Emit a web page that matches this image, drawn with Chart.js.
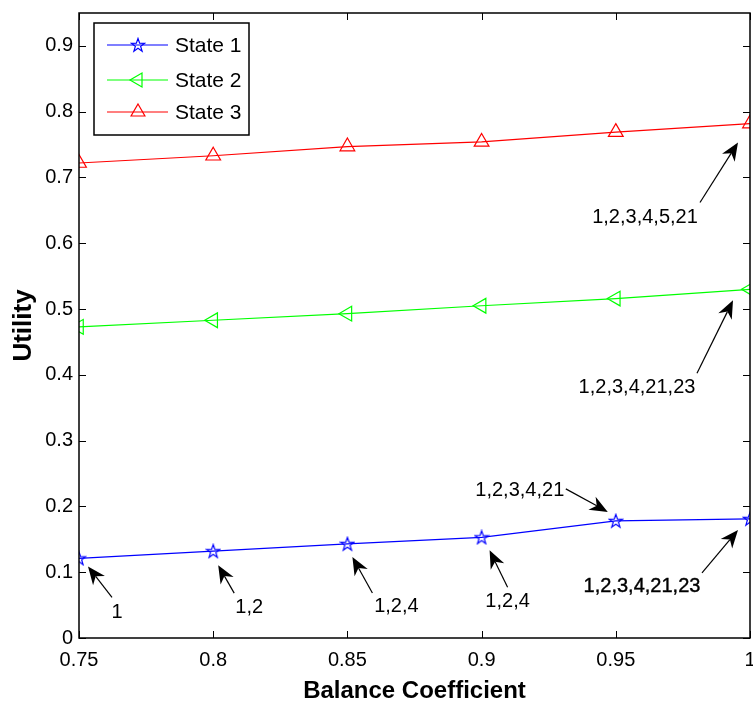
<!DOCTYPE html>
<html lang="en">
<head>
<meta charset="UTF-8">
<title>Utility vs Balance Coefficient</title>
<script src="https://cdn.jsdelivr.net/npm/chart.js"></script>
<style>
    body {
        margin: 0;
        background: #fff;
    }
    #chartBox {
        width: 753px;
        height: 703px;
    }
</style>
</head>
<body>
<div id="chartBox"><canvas id="utilityChart" width="753" height="703"></canvas></div>
<script>
// ---- data ----
const balanceCoefficients = [0.75, 0.8, 0.85, 0.9, 0.95, 1];
const state1 = [0.121, 0.132, 0.143, 0.153, 0.178, 0.181];
const state2 = [0.473, 0.483, 0.493, 0.505, 0.516, 0.530];
const state3 = [0.722, 0.733, 0.747, 0.754, 0.769, 0.782];
const seriesNames = ['State 1', 'State 2', 'State 3'];

const xTickValues = [0.75, 0.8, 0.85, 0.9, 0.95, 1];
const xTickLabels = ['0.75', '0.8', '0.85', '0.9', '0.95', '1'];
const yTickValues = [0, 0.1, 0.2, 0.3, 0.4, 0.5, 0.6, 0.7, 0.8, 0.9];
const yTickLabels = ['0', '0.1', '0.2', '0.3', '0.4', '0.5', '0.6', '0.7', '0.8', '0.9'];

// which point each callout points at, and its text
const noteSeries = [0, 0, 0, 0, 0, 0, 1, 2];
const notePoints = [0, 1, 2, 3, 4, 5, 5, 5];
const noteTexts = ['1', '1,2', '1,2,4', '1,2,4', '1,2,3,4,21', '1,2,3,4,21,23', '1,2,3,4,21,23', '1,2,3,4,5,21'];

// callout placement relative to the point (pixels): arrow tip, arrow tail, text centre
const noteLayout = [
    { tip: [9, 8],    tail: [33, 39],   text: [38, 54] },
    { tip: [5, 14],   tail: [21, 42],   text: [36, 56] },
    { tip: [5, 13],   tail: [25, 49],   text: [49, 63] },
    { tip: [8, 13],   tail: [26, 50],   text: [26, 64] },
    { tip: [-8, -9],  tail: [-50, -32], text: [-96, -30] },
    { tip: [-12, 11], tail: [-48, 54],  text: [-108, 68], heavy: true },
    { tip: [-17, 11], tail: [-53, 84],  text: [-113, 98] },
    { tip: [-12, 19], tail: [-50, 79],  text: [-105, 94] }
];

const FONT = "'Liberation Sans', Arial, Helvetica, sans-serif";
const colors = ['#0000ff', '#00ff00', '#ff0000'];

// MATLAB-like pentagram marker
function makePentagram(color) {
    const c = document.createElement('canvas');
    c.width = 16; c.height = 16;
    const g = c.getContext('2d');
    g.strokeStyle = color;
    g.lineWidth = 1.2;
    g.beginPath();
    for (let i = 0; i < 10; i++) {
        const r = i % 2 === 0 ? 7 : 2.8;
        const a = -Math.PI / 2 + i * Math.PI / 5;
        const px = 8 + r * Math.cos(a), py = 8.5 + r * Math.sin(a);
        if (i === 0) g.moveTo(px, py); else g.lineTo(px, py);
    }
    g.closePath();
    g.stroke();
    return c;
}
const starMarker = makePentagram(colors[0]);

const markerStyles = [
    { pointStyle: starMarker, rotation: 0, radius: 7 },
    { pointStyle: 'triangle', rotation: 270, radius: 8.5 },
    { pointStyle: 'triangle', rotation: 0, radius: 8.5 }
];

function toPoints(values) {
    return balanceCoefficients.map((x, i) => ({ x: x, y: values[i] }));
}

const seriesValues = [state1, state2, state3];

const datasets = seriesValues.map((vals, i) => ({
    label: seriesNames[i],
    data: toPoints(vals),
    borderColor: colors[i],
    backgroundColor: 'rgba(0,0,0,0)',
    borderWidth: 1.2,
    pointStyle: markerStyles[i].pointStyle,
    pointRotation: markerStyles[i].rotation,
    pointRadius: markerStyles[i].radius,
    pointBorderColor: colors[i],
    pointBackgroundColor: 'rgba(0,0,0,0)',
    pointBorderWidth: 1.2,
    tension: 0
}));

// box, inward ticks on all four sides
const frameTicks = {
    id: 'frameTicks',
    afterDatasetsDraw(chart) {
        const { ctx, chartArea: a, scales } = chart;
        const len = 7;
        ctx.save();
        ctx.strokeStyle = '#000';
        ctx.lineWidth = 1;
        ctx.beginPath();
        xTickValues.forEach(v => {
            const x = Math.round(scales.x.getPixelForValue(v)) + 0.5;
            ctx.moveTo(x, a.bottom); ctx.lineTo(x, a.bottom - len);
            ctx.moveTo(x, a.top); ctx.lineTo(x, a.top + len);
        });
        yTickValues.forEach(v => {
            const y = Math.round(scales.y.getPixelForValue(v)) + 0.5;
            ctx.moveTo(a.left, y); ctx.lineTo(a.left + len, y);
            ctx.moveTo(a.right, y); ctx.lineTo(a.right - len, y);
        });
        ctx.stroke();
        ctx.lineWidth = 1.5;
        ctx.strokeRect(a.left, a.top, a.right - a.left, a.bottom - a.top);
        ctx.restore();
    }
};

// legend box with line + marker samples
const matlabLegend = {
    id: 'matlabLegend',
    afterDraw(chart) {
        const { ctx } = chart;
        const box = { x: 94, y: 23, w: 155, h: 112 };
        const rows = [45, 80, 112];
        ctx.save();
        ctx.fillStyle = '#fff';
        ctx.fillRect(box.x, box.y, box.w, box.h);
        ctx.strokeStyle = '#000';
        ctx.lineWidth = 1.5;
        ctx.strokeRect(box.x, box.y, box.w, box.h);
        seriesNames.forEach((name, i) => {
            const y = rows[i];
            ctx.strokeStyle = colors[i];
            ctx.lineWidth = 1.2;
            ctx.beginPath();
            ctx.moveTo(107, y); ctx.lineTo(168, y);
            ctx.stroke();
            ctx.fillStyle = 'rgba(0,0,0,0)';
            Chart.helpers.drawPoint(ctx, {
                pointStyle: markerStyles[i].pointStyle,
                rotation: markerStyles[i].rotation,
                radius: i === 0 ? 6 : 8,
                borderWidth: 1.2
            }, 138, y);
            ctx.fillStyle = '#000';
            ctx.font = '21px ' + FONT;
            ctx.textAlign = 'left';
            ctx.textBaseline = 'middle';
            ctx.fillText(name, 175, y + 1);
        });
        ctx.restore();
    }
};

// arrow callouts
function drawArrow(ctx, x0, y0, x1, y1) {
    const ang = Math.atan2(y1 - y0, x1 - x0);
    const headLen = 18, headHalf = 7.5;
    const bx = x1 - headLen * Math.cos(ang), by = y1 - headLen * Math.sin(ang);
    const nx = x1 - headLen * 0.7 * Math.cos(ang), ny = y1 - headLen * 0.7 * Math.sin(ang);
    ctx.beginPath();
    ctx.moveTo(x0, y0); ctx.lineTo(nx, ny);
    ctx.stroke();
    ctx.beginPath();
    ctx.moveTo(x1, y1);
    ctx.lineTo(bx + headHalf * Math.sin(ang), by - headHalf * Math.cos(ang));
    ctx.lineTo(nx, ny);
    ctx.lineTo(bx - headHalf * Math.sin(ang), by + headHalf * Math.cos(ang));
    ctx.closePath();
    ctx.fill();
}

const callouts = {
    id: 'callouts',
    afterDraw(chart) {
        const { ctx, scales } = chart;
        ctx.save();
        ctx.strokeStyle = '#000';
        ctx.fillStyle = '#000';
        ctx.lineWidth = 1.2;
        ctx.font = '20px ' + FONT;
        ctx.textAlign = 'center';
        ctx.textBaseline = 'middle';
        noteTexts.forEach((txt, k) => {
            const s = noteSeries[k], p = notePoints[k];
            const px = scales.x.getPixelForValue(balanceCoefficients[p]);
            const py = scales.y.getPixelForValue(seriesValues[s][p]);
            const L = noteLayout[k];
            drawArrow(ctx, px + L.tail[0], py + L.tail[1], px + L.tip[0], py + L.tip[1]);
            ctx.fillText(txt, px + L.text[0], py + L.text[1]);
            if (L.heavy) {
                ctx.lineWidth = 0.4;
                ctx.strokeText(txt, px + L.text[0], py + L.text[1]);
                ctx.lineWidth = 1.2;
            }
        });
        ctx.restore();
    }
};

const ctx = document.getElementById('utilityChart').getContext('2d');

new Chart(ctx, {
    type: 'line',
    data: { datasets: datasets },
    options: {
        responsive: false,
        animation: false,
        devicePixelRatio: 1,
        layout: { autoPadding: false, padding: { top: 13, right: 3, left: 0, bottom: 0 } },
        plugins: {
            legend: { display: false },
            tooltip: { enabled: false }
        },
        scales: {
            x: {
                type: 'linear',
                min: 0.75,
                max: 1,
                grid: { display: false, drawTicks: false },
                border: { display: false },
                afterBuildTicks: scale => { scale.ticks = xTickValues.map(v => ({ value: v })); },
                afterFit: scale => { scale.height = 65; scale.paddingLeft = 0; scale.paddingRight = 0; },
                ticks: {
                    color: '#000',
                    padding: 10,
                    maxRotation: 0,
                    autoSkip: false,
                    font: { family: FONT, size: 20 },
                    callback: (v) => xTickLabels[xTickValues.indexOf(v)]
                },
                title: {
                    display: true,
                    text: 'Balance Coefficient',
                    color: '#000',
                    font: { family: FONT, size: 24, weight: 'bold', lineHeight: 1 },
                    padding: { top: 0, bottom: 0 }
                }
            },
            y: {
                type: 'linear',
                min: 0,
                max: 0.95,
                grid: { display: false, drawTicks: false },
                border: { display: false },
                afterBuildTicks: scale => { scale.ticks = yTickValues.map(v => ({ value: v })); },
                afterFit: scale => { scale.width = 79; scale.paddingTop = 0; scale.paddingBottom = 0; },
                ticks: {
                    color: '#000',
                    padding: 6,
                    autoSkip: false,
                    font: { family: FONT, size: 20 },
                    callback: (v) => yTickLabels[yTickValues.indexOf(v)]
                },
                title: {
                    display: true,
                    text: 'Utility',
                    color: '#000',
                    font: { family: FONT, size: 26, weight: 'bold', lineHeight: 1 },
                    padding: { top: 11, bottom: 0 }
                }
            }
        }
    },
    plugins: [frameTicks, callouts, matlabLegend]
});
</script>
</body>
</html>
